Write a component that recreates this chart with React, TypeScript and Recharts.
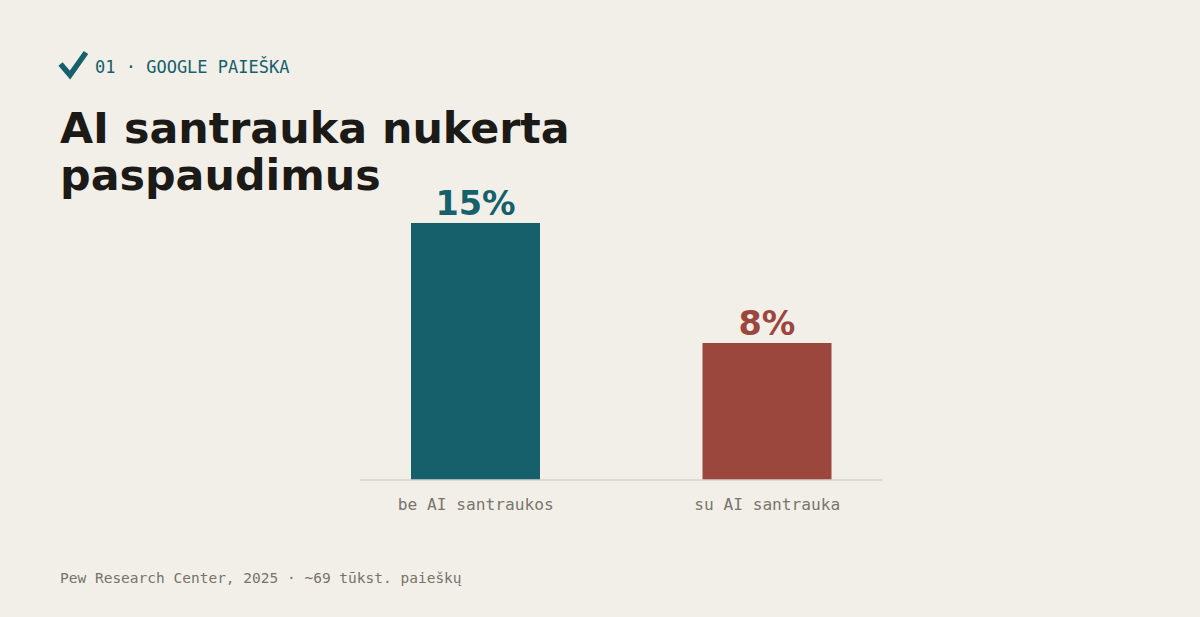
import { BarChart, Bar, XAxis, YAxis, Cell, LabelList } from 'recharts';

// Data
const categories = ['be AI santraukos', 'su AI santrauka'];
const clickShare = [15, 8];
const barColors = ['#16606b', '#9c473e'];

const data = categories.map((name, i) => ({ name, value: clickShare[i] }));

const BG = '#f2efe9';
const MONO = '"DejaVu Sans Mono", monospace';
const SANS = '"DejaVu Sans", sans-serif';

const App = () => {
  return (
    <div style={{ position: 'absolute', left: 0, top: 0, width: 1200, height: 617, background: BG, overflow: 'hidden' }}>
      {/* Header, title and source */}
      <svg width={1200} height={617} style={{ position: 'absolute', left: 0, top: 0 }}>
        <path d="M60.5 64 L70 75 L86 52.5" fill="none" stroke="#16606b" strokeWidth={5.5} strokeLinejoin="miter" />
        <text x={95} y={73} fontFamily={MONO} fontSize={17} fill="#16606b">01 · GOOGLE PAIEŠKA</text>
        <text x={60} y={143} fontFamily={SANS} fontSize={42.8} fontWeight="bold" fill="#1c1a17">AI santrauka nukerta</text>
        <text x={60} y={190} fontFamily={SANS} fontSize={42.8} fontWeight="bold" fill="#1c1a17">paspaudimus</text>
        <text x={60} y={583} fontFamily={MONO} fontSize={14.5} fill="#77736b">Pew Research Center, 2025 · ~69 tūkst. paieškų</text>
      </svg>

      <div style={{ position: 'absolute', left: 0, top: 0 }}>
        <BarChart
          width={1200}
          height={617}
          data={data}
          margin={{ top: 223, right: 318, bottom: 107, left: 360 }}
        >
          <XAxis
            dataKey="name"
            height={30}
            padding={{ left: -30, right: -31 }}
            tickLine={false}
            tickMargin={12}
            axisLine={{ stroke: '#d6d2ca', strokeWidth: 1.5 }}
            tick={{ fill: '#7a756d', fontFamily: MONO, fontSize: 16.2 }}
          />
          <YAxis hide domain={[0, 15]} />
          <Bar dataKey="value" barSize={129} isAnimationActive={false}>
            {data.map((d, i) => (
              <Cell key={d.name} fill={barColors[i]} />
            ))}
            <LabelList
              dataKey="value"
              position="top"
              content={(props: any) => {
                const { x, y, width, value, index } = props;
                return (
                  <text
                    x={x + width / 2}
                    y={y - 8}
                    textAnchor="middle"
                    fontFamily={SANS}
                    fontWeight="bold"
                    fontSize={33.5}
                    fill={barColors[index]}
                  >
                    {`${value}%`}
                  </text>
                );
              }}
            />
          </Bar>
        </BarChart>
      </div>
    </div>
  );
};

export default App;
